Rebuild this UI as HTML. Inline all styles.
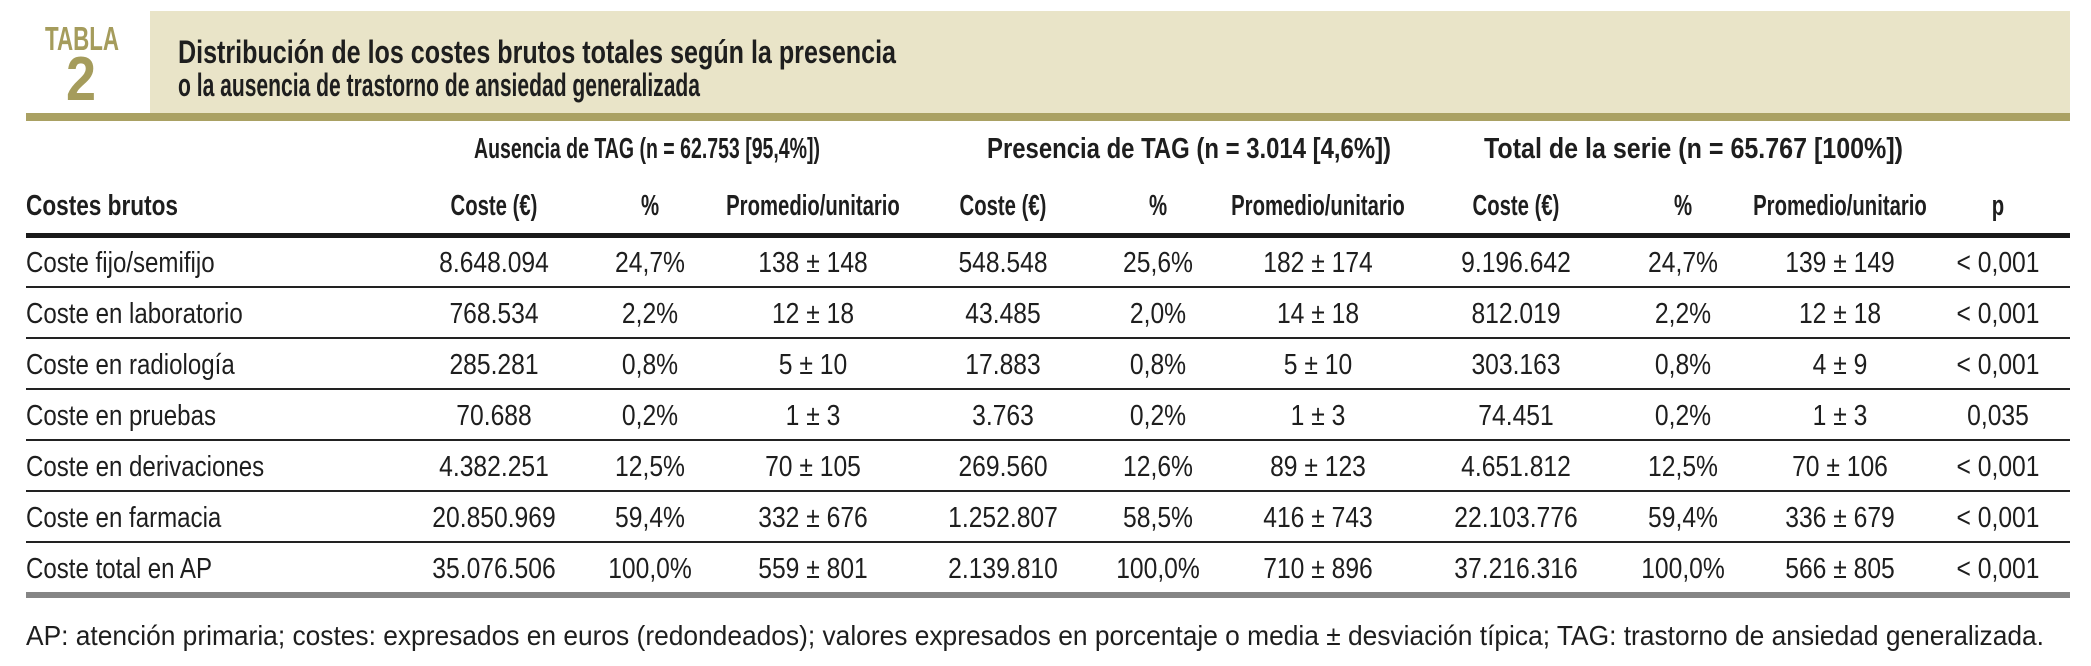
<!DOCTYPE html>
<html><head><meta charset="utf-8">
<style>
html,body{margin:0;padding:0;background:#fff;}
svg{display:block;}
text{font-family:"Liberation Sans",sans-serif;fill:#1e1e1e;}
.b{font-weight:bold;}
</style></head>
<body>
<svg id="s" width="2091" height="666" viewBox="0 0 2091 666" xmlns="http://www.w3.org/2000/svg">
<rect x="150" y="11" width="1920" height="103" fill="#e9e4c8"/>
<rect x="26" y="113" width="2044" height="8" fill="#aaa163"/>
<text x="45" y="50" font-size="33" class="b" style="fill:#a59c5c" textLength="74" lengthAdjust="spacingAndGlyphs">TABLA</text>
<text x="81" y="100" font-size="62" class="b" text-anchor="middle" style="fill:#a59c5c" textLength="30" lengthAdjust="spacingAndGlyphs">2</text>
<text x="178" y="63" font-size="32" class="b" textLength="718" lengthAdjust="spacingAndGlyphs">Distribución de los costes brutos totales según la presencia</text>
<text x="178" y="96" font-size="32" class="b" textLength="522" lengthAdjust="spacingAndGlyphs">o la ausencia de trastorno de ansiedad generalizada</text>
<text x="474" y="158" font-size="29" class="b" textLength="346" lengthAdjust="spacingAndGlyphs">Ausencia de TAG (n = 62.753 [95,4%])</text>
<text x="987" y="158" font-size="29" class="b" textLength="404" lengthAdjust="spacingAndGlyphs">Presencia de TAG (n = 3.014 [4,6%])</text>
<text x="1484" y="158" font-size="29" class="b" textLength="419" lengthAdjust="spacingAndGlyphs">Total de la serie (n = 65.767 [100%])</text>
<text x="26" y="215" font-size="29" class="b" textLength="152" lengthAdjust="spacingAndGlyphs">Costes brutos</text>
<g id="hdr"></g>
<rect x="26" y="233" width="2044" height="5" fill="#1a1a1a"/>
<g id="body"></g>
<rect x="26" y="592" width="2044" height="6" fill="#858585"/>
<text x="26" y="645" font-size="28" textLength="2018" lengthAdjust="spacingAndGlyphs">AP: atención primaria; costes: expresados en euros (redondeados); valores expresados en porcentaje o media ± desviación típica; TAG: trastorno de ansiedad generalizada.</text>
</svg>
<script>
const colHeaders = ["Coste (€)","%","Promedio/unitario","Coste (€)","%","Promedio/unitario","Coste (€)","%","Promedio/unitario","p"];
const rowLabels = ["Coste fijo/semifijo","Coste en laboratorio","Coste en radiología","Coste en pruebas","Coste en derivaciones","Coste en farmacia","Coste total en AP"];
const ausCoste = ["8.648.094","768.534","285.281","70.688","4.382.251","20.850.969","35.076.506"];
const ausPct = ["24,7%","2,2%","0,8%","0,2%","12,5%","59,4%","100,0%"];
const ausProm = ["138 ± 148","12 ± 18","5 ± 10","1 ± 3","70 ± 105","332 ± 676","559 ± 801"];
const preCoste = ["548.548","43.485","17.883","3.763","269.560","1.252.807","2.139.810"];
const prePct = ["25,6%","2,0%","0,8%","0,2%","12,6%","58,5%","100,0%"];
const preProm = ["182 ± 174","14 ± 18","5 ± 10","1 ± 3","89 ± 123","416 ± 743","710 ± 896"];
const totCoste = ["9.196.642","812.019","303.163","74.451","4.651.812","22.103.776","37.216.316"];
const totPct = ["24,7%","2,2%","0,8%","0,2%","12,5%","59,4%","100,0%"];
const totProm = ["139 ± 149","12 ± 18","4 ± 9","1 ± 3","70 ± 106","336 ± 679","566 ± 805"];
const pVals = ["< 0,001","< 0,001","< 0,001","0,035","< 0,001","< 0,001","< 0,001"];

const NS="http://www.w3.org/2000/svg";
const colX=[494,650,813,1003,1158,1318,1516,1683,1840,1998];
const hdrNames=["coste","pct","promedio","coste","pct","promedio","coste","pct","promedio","p"];
const hdr=document.getElementById('hdr'), body=document.getElementById('body');
function mk(parent,x,y,str,size,bold,anchor,factor){
  const t=document.createElementNS(NS,'text');
  t.setAttribute('x',x);t.setAttribute('y',y);t.setAttribute('font-size',size);
  if(bold)t.setAttribute('class','b');
  t.setAttribute('text-anchor',anchor);
  t.textContent=str;parent.appendChild(t);
  const w=t.getComputedTextLength();
  t.setAttribute('textLength',(w*factor).toFixed(1));
  t.setAttribute('lengthAdjust','spacingAndGlyphs');
  return t;
}
colHeaders.forEach((h,i)=>{
  const t=mk(hdr,colX[i],215,h,29,true,'middle',0.7);
  
  
});
const cols=[ausCoste,ausPct,ausProm,preCoste,prePct,preProm,totCoste,totPct,totProm,pVals];
const rowY0=272, rowH=51;
rowLabels.forEach((lab,r)=>{
  const y=rowY0+r*rowH;
  const l=mk(body,26,y,lab,29,false,'start',0.83);
  
  
  cols.forEach((arr,c)=>{
    const t=mk(body,colX[c],y,arr[r],29,false,'middle',0.85);
    
    
  });
  if(r<rowLabels.length-1){
    const ln=document.createElementNS(NS,'rect');
    ln.setAttribute('x',26);ln.setAttribute('y',y+14);ln.setAttribute('width',2044);ln.setAttribute('height',2);ln.setAttribute('fill','#222');
    
    
    body.appendChild(ln);
  }
});
</script>
</body></html>
